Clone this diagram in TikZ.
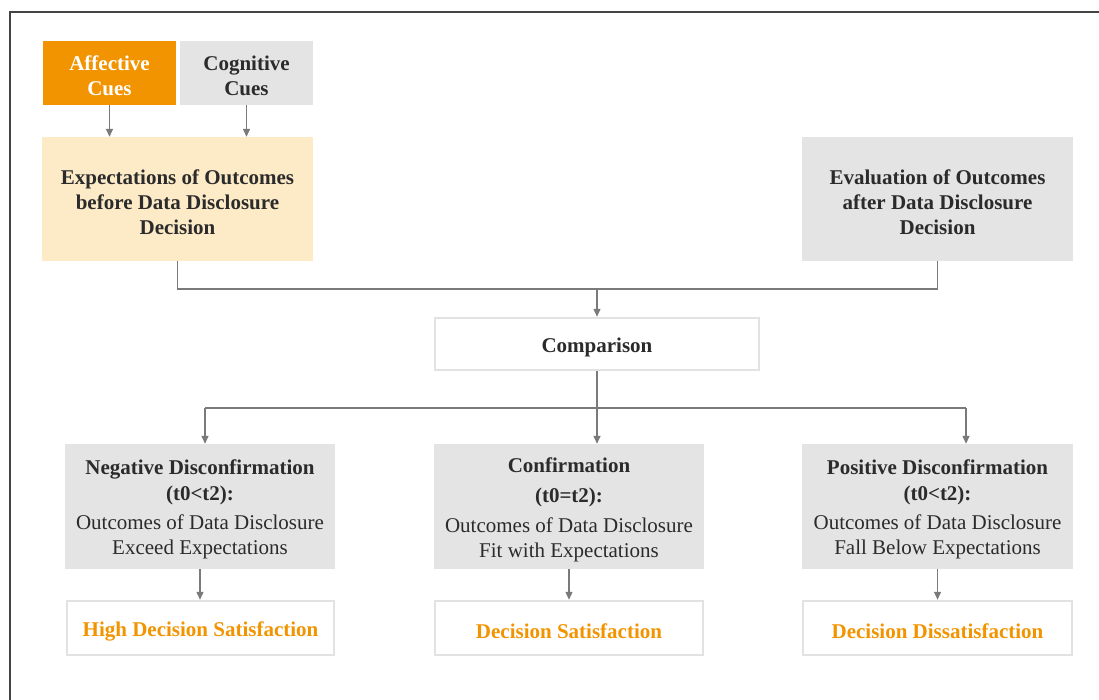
\documentclass[tikz,border=0pt]{standalone}
\usepackage{fontspec}
\setmainfont{Liberation Serif}
\usetikzlibrary{arrows.meta}
\definecolor{orng}{HTML}{F29400}
\definecolor{peach}{HTML}{FDEBC8}
\definecolor{lgray}{HTML}{E4E4E4}
\definecolor{bgray}{HTML}{E2E2E2}
\definecolor{txt}{HTML}{2B2B2B}
\definecolor{arrgray}{HTML}{7A7A7A}
\definecolor{frame}{HTML}{444444}
\newcommand\topstrut{\rule{0pt}{21pt}}
\tikzset{
  box/.style={rectangle, inner sep=2pt, align=center, text=txt,
    font=\fontsize{21}{25}\selectfont},
  boldbox/.style={box, font=\fontsize{21}{25}\selectfont\bfseries},
  graybox/.style={fill=lgray},
  whitebox/.style={fill=white, draw=bgray, line width=2.5pt},
  conn/.style={draw=arrgray, line width=1.4pt},
  arr/.style={conn, -{Triangle[length=8pt,width=7pt]}},
}
\begin{document}
\begin{tikzpicture}[x=1pt,y=-1pt]
\useasboundingbox (0,0) rectangle (1099,700);
\fill[white] (0,0) rectangle (1099,700);
\draw[frame, line width=2pt] (10,702) -- (10,12) -- (1101,12);

% top row
\node[boldbox, fill=orng, text=white, minimum width=133, minimum height=64] (aff) at (109.5,73) {\topstrut Affective\\Cues};
\node[boldbox, graybox, minimum width=133, minimum height=64] (cog) at (246.5,73) {\topstrut Cognitive\\Cues};
\node[boldbox, fill=peach, minimum width=271, minimum height=124] (exp) at (177.5,199) {\topstrut Expectations of Outcomes\\before Data Disclosure\\Decision};
\node[boldbox, graybox, minimum width=271, minimum height=124] (eval) at (937.5,199) {\topstrut Evaluation of Outcomes\\after Data Disclosure\\Decision};
\node[boldbox, whitebox, minimum width=324, minimum height=52] (cmp) at (597,344) {\topstrut Comparison};

% outcome boxes
\node[box, graybox, minimum width=270, minimum height=125] (neg) at (200,506.5)
  {\topstrut\textbf{Negative Disconfirmation}\\[1pt]\textbf{(t0<t2):}\\[4pt]Outcomes of Data Disclosure\\Exceed Expectations};
\node[box, graybox, minimum width=270, minimum height=125] (conf) at (569,506.5)
  {\topstrut\textbf{Confirmation}\\[5pt]\textbf{(t0=t2):}\\[5pt]Outcomes of Data Disclosure\\Fit with Expectations};
\node[box, graybox, minimum width=271, minimum height=125] (pos) at (937.5,506.5)
  {\topstrut\textbf{Positive Disconfirmation}\\[1pt]\textbf{(t0<t2):}\\[4pt]Outcomes of Data Disclosure\\Fall Below Expectations};

\node[boldbox, whitebox, text=orng, minimum width=267, minimum height=54] (hds) at (200.5,628) {\topstrut High Decision Satisfaction};
\node[boldbox, whitebox, text=orng, minimum width=268, minimum height=54] (ds) at (569,628) {\topstrut Decision Satisfaction};
\node[boldbox, whitebox, text=orng, minimum width=269, minimum height=54] (dd) at (937.5,628) {\topstrut Decision Dissatisfaction};

% connectors
\draw[arr] (aff.south) -- (aff.south |- exp.north);
\draw[arr] (cog.south) -- (cog.south |- exp.north);
\coordinate (j1) at (597,289);
\draw[conn] (exp.south) |- (j1) -| (eval.south);
\draw[arr] (j1) -- (cmp.north);
\coordinate (jl) at (205,408);
\coordinate (jr) at (966,408);
\draw[conn] (jl) -- (jr);
\draw[arr] (cmp.south) -- (cmp.south |- conf.north);
\draw[arr] (jl) -- (jl |- neg.north);
\draw[arr] (jr) -- (jr |- pos.north);
\draw[arr] (neg.south) -- (neg.south |- hds.north);
\draw[arr] (conf.south) -- (ds.north);
\draw[arr] (pos.south) -- (dd.north);
\end{tikzpicture}
\end{document}
